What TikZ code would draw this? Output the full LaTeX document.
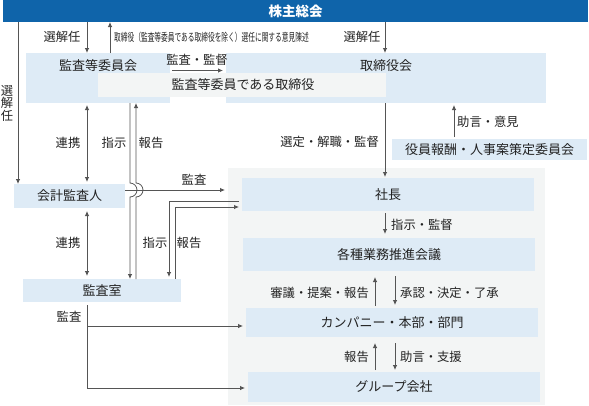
\documentclass[tikz,border=0pt]{standalone}
\usepackage{fontspec}
\usepackage{graphicx}
\setmainfont{Noto Sans CJK JP}
\usetikzlibrary{arrows.meta,calc}
\definecolor{barblue}{HTML}{0F64AA}
\definecolor{boxblue}{HTML}{DEEBF6}
\definecolor{greybg}{HTML}{F3F5F5}
\definecolor{txt}{HTML}{222222}
\definecolor{lncol}{HTML}{555555}
\begin{document}
\begin{tikzpicture}[x=1pt,y=-1pt,
  box/.style={fill=boxblue, inner sep=0pt, outer sep=0pt, anchor=north west, text=txt, font=\fontsize{13}{13}\selectfont},
  lbl/.style={font=\fontsize{12.3}{12.5}\selectfont, text=txt, inner sep=0pt},
  conn/.style={draw=lncol, line width=0.8pt},
  arr/.style={conn, -{Latex[length=5pt,width=4.5pt]}},
  darr/.style={conn, {Latex[length=5pt,width=4.5pt]}-{Latex[length=5pt,width=4.5pt]}}]
\useasboundingbox (0,0) rectangle (589,405);
% boxes
\node[box, fill=greybg, minimum width=317pt, minimum height=237pt] (exec) at (228,168) {};
\node[box, fill=barblue, minimum width=585pt, minimum height=22pt, text=white, font=\fontsize{13.5}{13.5}\selectfont\bfseries] (bar) at (3,0) {株主総会};
\node[box, minimum width=144pt, minimum height=50pt] (kansa) at (26,53) {};
\node[box, minimum width=320pt, minimum height=50pt] (torishimari) at (226,53) {};
\node[box, fill=greybg, minimum width=288pt, minimum height=24pt] (kansatori) at (98,73) {};
\node[lbl, font=\fontsize{13}{13}\selectfont] (kansaT) at (98,66) {監査等委員会};
\node[lbl, font=\fontsize{13}{13}\selectfont] (toriT) at (386,66) {取締役会};
\node[lbl, font=\fontsize{13}{13}\selectfont] (ktT) at (243,85) {監査等委員である取締役};
\node[box, minimum width=111pt, minimum height=24pt] (kaikei) at (14,184) {会計監査人};
\node[box, minimum width=158pt, minimum height=23pt] (kansashitsu) at (23,279) {監査室};
\node[box, minimum width=292pt, minimum height=33pt] (shacho) at (242,178) {社長};
\node[box, minimum width=292pt, minimum height=33pt] (kakushu) at (243,238) {各種業務推進会議};
\node[box, minimum width=292pt, minimum height=29pt] (company) at (246,308) {カンパニー・本部・部門};
\node[box, minimum width=292pt, minimum height=30pt] (group) at (248,372) {グループ会社};
\node[box, minimum width=195pt, minimum height=21pt] (yakuin) at (392,139) {役員報酬・人事案策定委員会};
% top connectors
\draw[arr] (18,0 |- bar.south) -- (18,0 |- kaikei.north);
\draw[arr] (87,0 |- bar.south) -- (87,0 |- kansa.north);
\draw[arr] (110,0 |- kansa.north) -- (110,0 |- bar.south);
\draw[arr] (385,0 |- bar.south) -- (385,0 |- torishimari.north);
\draw[arr, shorten <=2pt, shorten >=3pt] (kansa.east |- 0,70.5) -- (torishimari.west |- 0,70.5);
% 連携
\draw[darr, shorten <=2pt, shorten >=2pt] (87,0 |- kansa.south) -- (87,0 |- kaikei.north);
\draw[darr, shorten <=3pt, shorten >=3pt] (87,0 |- kaikei.south) -- (87,0 |- kansashitsu.north);
% 監査 from 会計監査人
\draw[arr, shorten >=3pt] (kaikei.east |- 0,190) -- (exec.west |- 0,190);
% 指示 / 報告 (left pair with hops)
\draw[arr] (130,0 |- kansa.south) -- (130,183) arc[start angle=-90, end angle=90, radius=7] -- (130,0 |- kansashitsu.north);
\draw[arr] (136,0 |- kansashitsu.north) -- (136,197) arc[start angle=90, end angle=-90, radius=7] -- (136,0 |- kansa.south);
% 指示 / 報告 (right pair)
\draw[arr, shorten <=3pt, shorten >=2pt] (shacho.west |- 0,201) -| (169,0 |- kansashitsu.north);
\draw[arr, shorten >=3pt] (175,0 |- kansashitsu.north) |- (shacho.west |- 0,207);
% 監査 from 監査室
\draw[arr, shorten <=3pt, shorten >=3pt] (87,0 |- kansashitsu.south) |- (group.west |- 0,388);
\draw[arr, shorten >=3pt] (87,326) -- (company.west |- 0,326);
% right column
\draw[arr, shorten >=1pt] (385,0 |- torishimari.south) -- (385,0 |- shacho.north);
\draw[arr, shorten <=2pt, shorten >=2pt] (454,0 |- yakuin.north) -- (454,0 |- torishimari.south);
\draw[arr, shorten <=2pt, shorten >=4pt] (385,0 |- shacho.south) -- (385,0 |- kakushu.north);
\draw[arr, shorten <=2pt, shorten >=6pt] (375,0 |- company.north) -- (375,0 |- kakushu.south);
\draw[arr, shorten <=5pt, shorten >=3pt] (395,0 |- kakushu.south) -- (395,0 |- company.north);
\draw[arr, shorten <=2pt, shorten >=6pt] (375,0 |- group.north) -- (375,0 |- company.south);
\draw[arr, shorten <=6pt, shorten >=2pt] (395,0 |- company.south) -- (395,0 |- group.north);
% labels
\node[lbl, align=center] (l1) at (7,103) {選\\解\\任};
\node[lbl] (l2) at (62,37) {選解任};
\node[lbl, anchor=west, font=\fontsize{11}{11}\selectfont] (l3) at (114,37) {\scalebox{0.61}[1]{取締役（監査等委員である取締役を除く）選任に関する意見陳述}};
\node[lbl] (l4) at (362,37) {選解任};
\node[lbl] (l5) at (197,60) {監査・監督};
\node[lbl] (l6) at (68,143) {連携};
\node[lbl] (l7) at (114,143) {指示};
\node[lbl] (l8) at (151,143) {報告};
\node[lbl] (l9) at (194,180) {監査};
\node[lbl] (l10) at (68,243) {連携};
\node[lbl] (l11) at (155,243) {指示};
\node[lbl] (l12) at (189,243) {報告};
\node[lbl] (l13) at (69,317) {監査};
\node[lbl, anchor=east] (l14) at (379,142) {選定・解職・監督};
\node[lbl, anchor=west] (l15) at (457,122) {助言・意見};
\node[lbl, anchor=west] (l16) at (391,225) {指示・監督};
\node[lbl, anchor=east] (l17) at (369,293) {審議・提案・報告};
\node[lbl, anchor=west] (l18) at (400,293) {承認・決定・了承};
\node[lbl, anchor=east] (l19) at (369,357) {報告};
\node[lbl, anchor=west] (l20) at (400,357) {助言・支援};
\end{tikzpicture}
\end{document}
